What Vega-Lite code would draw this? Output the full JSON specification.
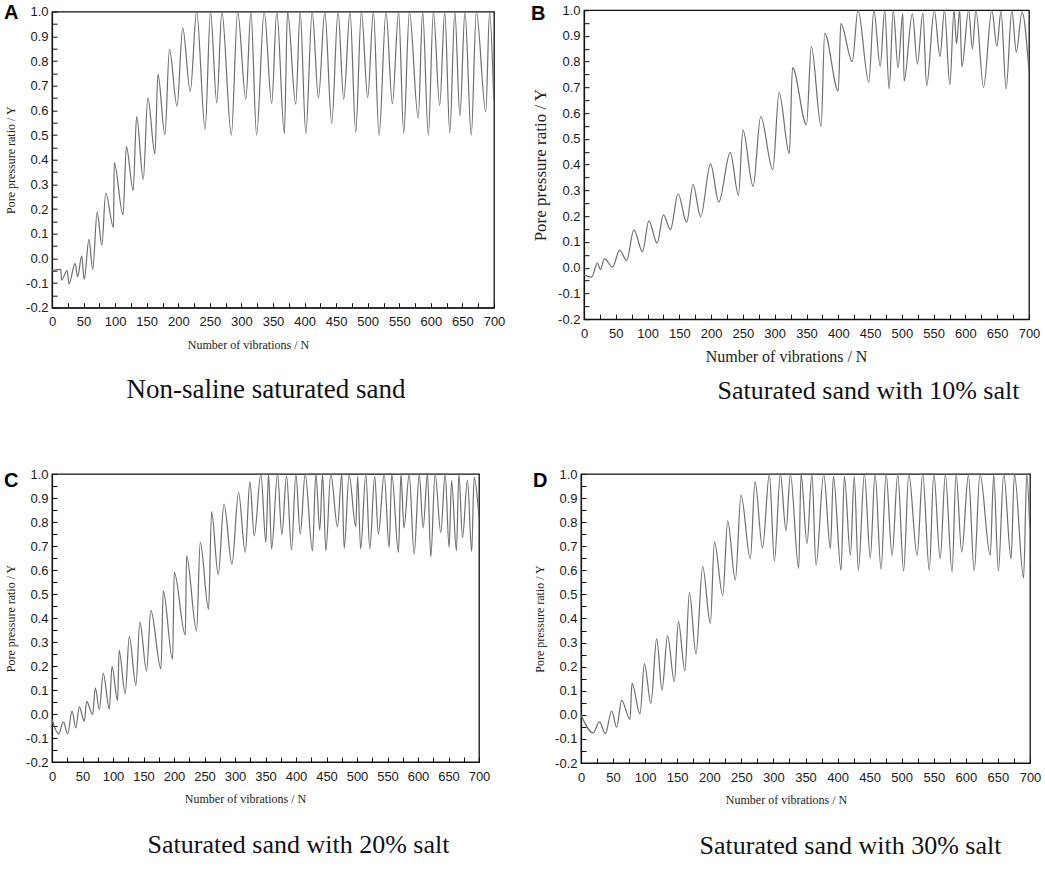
{
"$schema": "https://vega.github.io/schema/vega-lite/v6.json",
"background": "white",
"padding": {"left": 3, "top": 3, "right": 0, "bottom": 0},
"config": {
 "view": {"stroke": "#111", "strokeWidth": 1.3},
 "axis": {"grid": false, "domainColor": "#111", "domainWidth": 1.2, "tickColor": "#111", "tickWidth": 1, "labelFont": "Liberation Sans", "labelFontSize": 13, "labelColor": "#1a1a1a", "titleFont": "Liberation Serif", "titleFontWeight": "normal", "titleColor": "#222", "labelFlush": false, "labelOverlap": false, "labelBound": false},
 "concat": {"spacing": 0}
},
"datasets": {
 "A": [{"n":0,"y":-0.05},{"n":14,"y":-0.045},{"n":15,"y":-0.088},{"n":24,"y":-0.05},{"n":27,"y":-0.103},{"n":36.5,"y":-0.02},{"n":40.7,"y":-0.075},{"n":47,"y":0.01},{"n":51,"y":-0.085},{"n":58.5,"y":0.077},{"n":64.5,"y":-0.045},{"n":71.5,"y":0.187},{"n":79,"y":0.054},{"n":85,"y":0.265},{"n":97.5,"y":0.125},{"n":98.5,"y":0.388},{"n":112.5,"y":0.176},{"n":117.8,"y":0.453},{"n":128.5,"y":0.275},{"n":134,"y":0.575},{"n":144.5,"y":0.32},{"n":151.8,"y":0.652},{"n":163,"y":0.424},{"n":167.8,"y":0.747},{"n":178.8,"y":0.5},{"n":186,"y":0.847},{"n":198,"y":0.617},{"n":207,"y":0.933},{"n":219,"y":0.677},{"n":229,"y":1.0},{"n":242.5,"y":0.523},{"n":251,"y":1.0},{"n":261,"y":0.63},{"n":269,"y":1.0},{"n":284,"y":0.5},{"n":294,"y":1.0},{"n":307,"y":0.645},{"n":315,"y":1.0},{"n":324,"y":0.5},{"n":336,"y":1.0},{"n":348,"y":0.628},{"n":356,"y":1.0},{"n":368,"y":0.505},{"n":373,"y":1.0},{"n":386,"y":0.625},{"n":393,"y":1.0},{"n":402,"y":0.505},{"n":412,"y":1.0},{"n":422,"y":0.65},{"n":432,"y":1.0},{"n":443,"y":0.547},{"n":453,"y":1.0},{"n":462,"y":0.645},{"n":472,"y":1.0},{"n":481,"y":0.512},{"n":490,"y":1.0},{"n":500,"y":0.652},{"n":509,"y":1.0},{"n":518,"y":0.498},{"n":529,"y":1.0},{"n":539,"y":0.627},{"n":549,"y":1.0},{"n":557,"y":0.508},{"n":566,"y":1.0},{"n":580,"y":0.568},{"n":587,"y":1.0},{"n":596,"y":0.498},{"n":604,"y":1.0},{"n":614,"y":0.62},{"n":622,"y":1.0},{"n":630,"y":0.508},{"n":638,"y":1.0},{"n":646,"y":0.577},{"n":654,"y":1.0},{"n":664,"y":0.498},{"n":672,"y":1.0},{"n":687,"y":0.594},{"n":693,"y":1.0},{"n":699.5,"y":0.645}],
 "B": [{"n":0,"y":-0.028},{"n":12,"y":-0.037},{"n":21,"y":0.018},{"n":26,"y":-0.008},{"n":32,"y":0.035},{"n":45,"y":0.003},{"n":56,"y":0.068},{"n":67,"y":0.028},{"n":78.5,"y":0.147},{"n":92,"y":0.062},{"n":102,"y":0.182},{"n":115,"y":0.095},{"n":125,"y":0.205},{"n":136,"y":0.148},{"n":148,"y":0.287},{"n":161.5,"y":0.175},{"n":171.5,"y":0.323},{"n":183.5,"y":0.198},{"n":199,"y":0.403},{"n":212,"y":0.255},{"n":230,"y":0.447},{"n":243,"y":0.282},{"n":250,"y":0.535},{"n":266,"y":0.316},{"n":278,"y":0.587},{"n":297,"y":0.38},{"n":306.8,"y":0.68},{"n":323,"y":0.443},{"n":328,"y":0.777},{"n":350,"y":0.555},{"n":357.6,"y":0.86},{"n":373,"y":0.548},{"n":378.6,"y":0.91},{"n":400,"y":0.686},{"n":404,"y":0.948},{"n":422,"y":0.8},{"n":431,"y":1.0},{"n":448,"y":0.72},{"n":456,"y":1.0},{"n":466,"y":0.782},{"n":473,"y":1.0},{"n":480,"y":0.694},{"n":486.5,"y":1.0},{"n":494,"y":0.776},{"n":501.5,"y":0.988},{"n":503.5,"y":0.724},{"n":516.5,"y":0.986},{"n":524.5,"y":0.79},{"n":533,"y":0.99},{"n":539,"y":0.707},{"n":551,"y":1.0},{"n":560,"y":0.82},{"n":567,"y":1.0},{"n":575.5,"y":0.71},{"n":582,"y":1.0},{"n":586,"y":0.87},{"n":591,"y":1.0},{"n":594.5,"y":0.78},{"n":605,"y":1.0},{"n":611,"y":0.85},{"n":616.5,"y":1.0},{"n":628.5,"y":0.7},{"n":641.5,"y":1.0},{"n":649.5,"y":0.86},{"n":656,"y":0.995},{"n":664,"y":0.694},{"n":673,"y":1.0},{"n":680,"y":0.837},{"n":689,"y":0.993},{"n":700,"y":0.763}],
 "C": [{"n":0,"y":-0.023},{"n":11,"y":-0.083},{"n":18.6,"y":-0.033},{"n":25.7,"y":-0.083},{"n":32.8,"y":0.012},{"n":39,"y":-0.058},{"n":44.8,"y":0.03},{"n":53,"y":-0.03},{"n":56.8,"y":0.053},{"n":66.6,"y":-0.002},{"n":71,"y":0.109},{"n":77.6,"y":0.018},{"n":84,"y":0.169},{"n":94,"y":0.021},{"n":98.3,"y":0.197},{"n":107.6,"y":0.056},{"n":110,"y":0.266},{"n":120,"y":0.084},{"n":126.7,"y":0.322},{"n":137.6,"y":0.119},{"n":144,"y":0.383},{"n":155,"y":0.179},{"n":162,"y":0.432},{"n":178.6,"y":0.188},{"n":182.4,"y":0.513},{"n":197.7,"y":0.227},{"n":200.4,"y":0.59},{"n":218.5,"y":0.329},{"n":220.6,"y":0.659},{"n":237,"y":0.346},{"n":243,"y":0.715},{"n":256.7,"y":0.436},{"n":261.6,"y":0.843},{"n":272.5,"y":0.58},{"n":282,"y":0.875},{"n":295,"y":0.624},{"n":305.8,"y":0.923},{"n":316.8,"y":0.673},{"n":324.4,"y":0.968},{"n":331.5,"y":0.742},{"n":342.4,"y":1.0},{"n":350.6,"y":0.715},{"n":355,"y":1.0},{"n":360,"y":0.687},{"n":369.7,"y":1.0},{"n":376.8,"y":0.747},{"n":384.5,"y":0.993},{"n":392.7,"y":0.683},{"n":399.8,"y":1.0},{"n":407,"y":0.749},{"n":415,"y":1.0},{"n":427,"y":0.68},{"n":432.5,"y":1.0},{"n":439,"y":0.766},{"n":443.5,"y":1.0},{"n":449,"y":0.68},{"n":457,"y":1.0},{"n":468,"y":0.78},{"n":475,"y":1.0},{"n":479,"y":0.69},{"n":487,"y":0.996},{"n":498,"y":0.78},{"n":501,"y":0.99},{"n":506,"y":0.687},{"n":514.5,"y":1.0},{"n":521,"y":0.687},{"n":529,"y":0.99},{"n":535,"y":0.75},{"n":544.5,"y":1.0},{"n":552.7,"y":0.694},{"n":557,"y":1.0},{"n":568,"y":0.673},{"n":572,"y":1.0},{"n":577,"y":0.775},{"n":585.5,"y":1.0},{"n":593.7,"y":0.666},{"n":602,"y":1.0},{"n":608.4,"y":0.775},{"n":615.5,"y":1.0},{"n":621,"y":0.655},{"n":628,"y":1.0},{"n":637.4,"y":0.756},{"n":644.5,"y":1.0},{"n":651,"y":0.694},{"n":655,"y":0.972},{"n":663,"y":0.68},{"n":667,"y":1.0},{"n":673,"y":0.735},{"n":681,"y":0.975},{"n":688,"y":0.677},{"n":692,"y":0.986},{"n":700,"y":0.82}],
 "D": [{"n":0,"y":-0.001},{"n":19,"y":-0.075},{"n":28.6,"y":-0.029},{"n":38,"y":-0.078},{"n":47.8,"y":0.016},{"n":55.6,"y":-0.051},{"n":63.4,"y":0.06},{"n":76.4,"y":-0.019},{"n":79.5,"y":0.131},{"n":92,"y":0.004},{"n":98.8,"y":0.213},{"n":109,"y":0.048},{"n":118,"y":0.317},{"n":126.3,"y":0.102},{"n":135,"y":0.328},{"n":145.5,"y":0.138},{"n":151.8,"y":0.388},{"n":162,"y":0.182},{"n":169,"y":0.509},{"n":179.3,"y":0.252},{"n":189.7,"y":0.616},{"n":201.7,"y":0.38},{"n":208,"y":0.718},{"n":221,"y":0.495},{"n":228.7,"y":0.805},{"n":240.6,"y":0.56},{"n":249.5,"y":0.912},{"n":264,"y":0.648},{"n":271.3,"y":0.968},{"n":283,"y":0.693},{"n":293.7,"y":1.0},{"n":301.5,"y":0.638},{"n":310.8,"y":1.0},{"n":319.6,"y":0.764},{"n":326.4,"y":1.0},{"n":339.4,"y":0.607},{"n":343,"y":1.0},{"n":352.4,"y":0.711},{"n":360,"y":1.0},{"n":366.4,"y":0.62},{"n":378.4,"y":1.0},{"n":388.8,"y":0.69},{"n":393.5,"y":0.99},{"n":405.4,"y":0.6},{"n":410.6,"y":0.99},{"n":420,"y":0.662},{"n":426,"y":0.99},{"n":432.4,"y":0.6},{"n":441.8,"y":1.0},{"n":451,"y":0.652},{"n":458.4,"y":1.0},{"n":467.8,"y":0.604},{"n":475.6,"y":1.0},{"n":485,"y":0.662},{"n":493.8,"y":1.0},{"n":503,"y":0.597},{"n":511,"y":1.0},{"n":524,"y":0.662},{"n":532.7,"y":1.0},{"n":543,"y":0.6},{"n":550,"y":1.0},{"n":560,"y":0.648},{"n":568,"y":0.996},{"n":578.5,"y":0.593},{"n":584.7,"y":1.0},{"n":593.6,"y":0.676},{"n":604,"y":0.996},{"n":613,"y":0.597},{"n":622,"y":1.0},{"n":638,"y":0.662},{"n":643.4,"y":0.996},{"n":650.7,"y":0.597},{"n":659,"y":1.0},{"n":670.5,"y":0.648},{"n":675.7,"y":1.0},{"n":690,"y":0.569},{"n":695,"y":1.0},{"n":699.5,"y":0.78}]
},
"spacing": 62,
"vconcat": [
 {"spacing": 24, "center": true, "hconcat": [
  {"title": {"text": "A", "anchor": "start", "frame": "bounds", "offset": -18, "fontSize": 20, "fontWeight": "bold", "font": "Liberation Sans", "color": "#000"},
   "vconcat": [{
    "width": 442, "height": 296,
    "data": {"name": "A"},
    "mark": {"type": "line", "interpolate": "monotone", "color": "#6e6e6e", "strokeWidth": 1.2, "clip": true},
    "encoding": {
     "x": {"field": "n", "type": "quantitative", "scale": {"domain": [0, 700], "nice": false},
       "axis": {"title": "Number of vibrations / N", "titleFontSize": 12, "titleX": 196, "titlePadding": 11, "values": [0,25,50,75,100,125,150,175,200,225,250,275,300,325,350,375,400,425,450,475,500,525,550,575,600,625,650,675,700], "labelExpr": "datum.value % 50 == 0 ? datum.label : ''", "tickSize": -5, "labelPadding": 13, "encode": {"ticks": {"update": {"y2": {"signal": "datum.value % 50 == 0 ? -5 : -3"}}}}}},
     "y": {"field": "y", "type": "quantitative", "scale": {"domain": [-0.2, 1.0], "nice": false, "zero": false},
       "axis": {"title": "Pore pressure ratio / Y", "titleFontSize": 12, "titlePadding": 8, "values": [-0.2,-0.15,-0.1,-0.05,0,0.05,0.1,0.15,0.2,0.25,0.3,0.35,0.4,0.45,0.5,0.55,0.6,0.65,0.7,0.75,0.8,0.85,0.9,0.95,1.0], "labelExpr": "abs(round(datum.value*20)) % 2 == 0 ? replace(format(datum.value, '.1f'), '\u2212', '-') : ''", "tickSize": -5, "labelPadding": 9, "encode": {"ticks": {"update": {"x2": {"signal": "abs(round(datum.value*20)) % 2 == 0 ? 5 : 3"}}}}}}
    },
    "title": {"text": "Non-saline saturated sand", "orient": "bottom", "frame": "group", "anchor": "middle", "dx": -7, "offset": 26, "fontSize": 27, "font": "Liberation Serif", "fontWeight": "normal", "color": "#111"}
   }]},
  {"title": {"text": "B", "anchor": "start", "frame": "bounds", "offset": -20, "fontSize": 20, "fontWeight": "bold", "font": "Liberation Sans", "color": "#000"},
   "vconcat": [{
    "width": 445, "height": 309,
    "data": {"name": "B"},
    "mark": {"type": "line", "interpolate": "monotone", "color": "#6e6e6e", "strokeWidth": 1.2, "clip": true},
    "encoding": {
     "x": {"field": "n", "type": "quantitative", "scale": {"domain": [0, 700], "nice": false},
       "axis": {"title": "Number of vibrations / N", "titleFontSize": 16, "titleX": 202, "titlePadding": 8, "values": [0,25,50,75,100,125,150,175,200,225,250,275,300,325,350,375,400,425,450,475,500,525,550,575,600,625,650,675,700], "labelExpr": "datum.value % 50 == 0 ? datum.label : ''", "tickSize": -5, "labelPadding": 13, "encode": {"ticks": {"update": {"y2": {"signal": "datum.value % 50 == 0 ? -5 : -3"}}}}}},
     "y": {"field": "y", "type": "quantitative", "scale": {"domain": [-0.2, 1.0], "nice": false, "zero": false},
       "axis": {"title": "Pore pressure ratio / Y", "titleFontSize": 17, "titlePadding": 8, "values": [-0.2,-0.15,-0.1,-0.05,0,0.05,0.1,0.15,0.2,0.25,0.3,0.35,0.4,0.45,0.5,0.55,0.6,0.65,0.7,0.75,0.8,0.85,0.9,0.95,1.0], "labelExpr": "abs(round(datum.value*20)) % 2 == 0 ? replace(format(datum.value, '.1f'), '\u2212', '-') : ''", "tickSize": -5, "labelPadding": 9, "encode": {"ticks": {"update": {"x2": {"signal": "abs(round(datum.value*20)) % 2 == 0 ? 5 : 3"}}}}}}
    },
    "title": {"text": "Saturated sand with 10% salt", "orient": "bottom", "frame": "group", "anchor": "middle", "dx": 62, "offset": 14, "fontSize": 26, "font": "Liberation Serif", "fontWeight": "normal", "color": "#111"}
   }]}
 ]},
 {"spacing": 41, "hconcat": [
  {"title": {"text": "C", "anchor": "start", "frame": "bounds", "offset": -24, "fontSize": 20, "fontWeight": "bold", "font": "Liberation Sans", "color": "#000"},
   "vconcat": [{
    "width": 427, "height": 288,
    "data": {"name": "C"},
    "mark": {"type": "line", "interpolate": "monotone", "color": "#6e6e6e", "strokeWidth": 1.2, "clip": true},
    "encoding": {
     "x": {"field": "n", "type": "quantitative", "scale": {"domain": [0, 700], "nice": false},
       "axis": {"title": "Number of vibrations / N", "titleFontSize": 12, "titleX": 193, "titlePadding": 10, "values": [0,25,50,75,100,125,150,175,200,225,250,275,300,325,350,375,400,425,450,475,500,525,550,575,600,625,650,675,700], "labelExpr": "datum.value % 50 == 0 ? datum.label : ''", "tickSize": -5, "labelPadding": 13, "encode": {"ticks": {"update": {"y2": {"signal": "datum.value % 50 == 0 ? -5 : -3"}}}}}},
     "y": {"field": "y", "type": "quantitative", "scale": {"domain": [-0.2, 1.0], "nice": false, "zero": false},
       "axis": {"title": "Pore pressure ratio / Y", "titleFontSize": 12, "titlePadding": 8, "values": [-0.2,-0.15,-0.1,-0.05,0,0.05,0.1,0.15,0.2,0.25,0.3,0.35,0.4,0.45,0.5,0.55,0.6,0.65,0.7,0.75,0.8,0.85,0.9,0.95,1.0], "labelExpr": "abs(round(datum.value*20)) % 2 == 0 ? replace(format(datum.value, '.1f'), '\u2212', '-') : ''", "tickSize": -5, "labelPadding": 9, "encode": {"ticks": {"update": {"x2": {"signal": "abs(round(datum.value*20)) % 2 == 0 ? 5 : 3"}}}}}}
    },
    "title": {"text": "Saturated sand with 20% salt", "orient": "bottom", "frame": "group", "anchor": "middle", "dx": 33, "offset": 28, "fontSize": 26, "font": "Liberation Serif", "fontWeight": "normal", "color": "#111"}
   }]},
  {"title": {"text": "D", "anchor": "start", "frame": "bounds", "offset": -24, "fontSize": 20, "fontWeight": "bold", "font": "Liberation Sans", "color": "#000"},
   "vconcat": [{
    "width": 449, "height": 289,
    "data": {"name": "D"},
    "mark": {"type": "line", "interpolate": "monotone", "color": "#6e6e6e", "strokeWidth": 1.2, "clip": true},
    "encoding": {
     "x": {"field": "n", "type": "quantitative", "scale": {"domain": [0, 700], "nice": false},
       "axis": {"title": "Number of vibrations / N", "titleFontSize": 12, "titleX": 205, "titlePadding": 10, "values": [0,25,50,75,100,125,150,175,200,225,250,275,300,325,350,375,400,425,450,475,500,525,550,575,600,625,650,675,700], "labelExpr": "datum.value % 50 == 0 ? datum.label : ''", "tickSize": -5, "labelPadding": 13, "encode": {"ticks": {"update": {"y2": {"signal": "datum.value % 50 == 0 ? -5 : -3"}}}}}},
     "y": {"field": "y", "type": "quantitative", "scale": {"domain": [-0.2, 1.0], "nice": false, "zero": false},
       "axis": {"title": "Pore pressure ratio / Y", "titleFontSize": 12, "titlePadding": 8, "values": [-0.2,-0.15,-0.1,-0.05,0,0.05,0.1,0.15,0.2,0.25,0.3,0.35,0.4,0.45,0.5,0.55,0.6,0.65,0.7,0.75,0.8,0.85,0.9,0.95,1.0], "labelExpr": "abs(round(datum.value*20)) % 2 == 0 ? replace(format(datum.value, '.1f'), '\u2212', '-') : ''", "tickSize": -5, "labelPadding": 9, "encode": {"ticks": {"update": {"x2": {"signal": "abs(round(datum.value*20)) % 2 == 0 ? 5 : 3"}}}}}}
    },
    "title": {"text": "Saturated sand with 30% salt", "orient": "bottom", "frame": "group", "anchor": "middle", "dx": 45, "offset": 28, "fontSize": 26, "font": "Liberation Serif", "fontWeight": "normal", "color": "#111"}
   }]}
 ]}
]
}
